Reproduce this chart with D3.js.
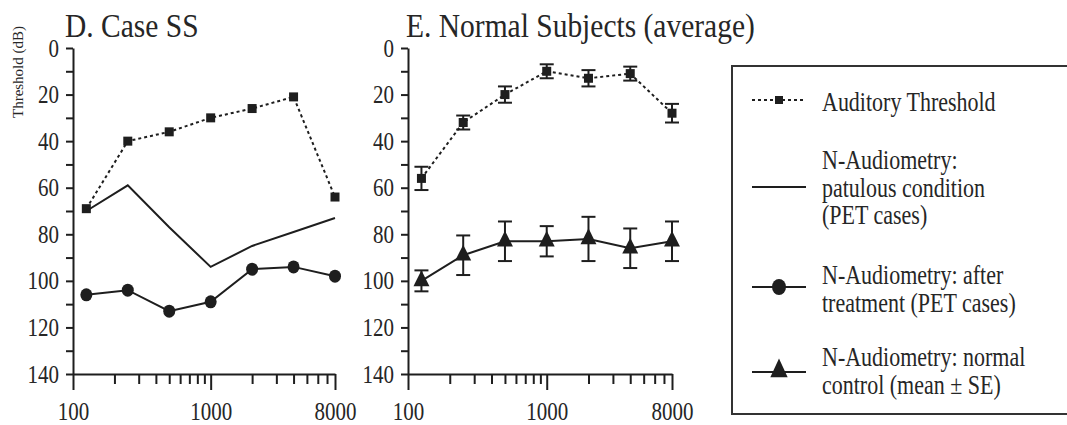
<!DOCTYPE html>
<html>
<head>
<meta charset="utf-8">
<script src="https://cdn.jsdelivr.net/npm/d3@7"></script>
<style>
  body { margin: 0; background: #fff; }
  svg text { font-family: "Liberation Serif", "Times New Roman", Times, "DejaVu Serif", serif !important; fill: #262626; }
</style>
</head>
<body>
<svg id="chart" width="1067" height="425" font-family="Liberation Serif, Times New Roman, serif"></svg>
<script>
// frequencies (Hz)
const freqs = [125, 250, 500, 1000, 2000, 4000, 8000]

// D. Case SS (dB)
const case_threshold = [69, 40, 36, 30, 26, 21, 64]
const case_patulous  = [70, 59, 77, 94, 85, 79, 73]
const case_after     = [106, 104, 113, 109, 95, 94, 98]

// E. Normal subjects (average, dB)
const normal_threshold    = [56, 32, 20, 10, 13, 11, 28]
const normal_threshold_se = [5, 3, 3.5, 3, 3.5, 3, 4]
const normal_control      = [100, 89, 83, 83, 82, 86, 83]
const normal_control_se   = [4.5, 8.5, 8.5, 6.5, 9.5, 8.5, 8.5]

// axes
const x_ticks  = [100, 200, 300, 400, 500, 600, 700, 800, 900, 1000, 2000, 3000, 4000, 5000, 6000, 7000, 8000]
const x_labels = [100, 1000, 8000]
const y_ticks  = [0, 10, 20, 30, 40, 50, 60, 70, 80, 90, 100, 110, 120, 130, 140]
const y_labels = [0, 20, 40, 60, 80, 100, 120, 140]

const titles = ["D. Case SS", "E. Normal Subjects (average)"]
const legend_labels = [
  ["Auditory Threshold"],
  ["N-Audiometry:", "patulous condition", "(PET cases)"],
  ["N-Audiometry: after", "treatment (PET cases)"],
  ["N-Audiometry: normal", "control (mean \u00b1 SE)"]
]

const ink = "#1e1e1e"
const serif = "Liberation Serif, Times New Roman, serif"
const svg = d3.select("#chart")

// text in the scan is a bit taller than wide
function stretch_text(g, x, y, str, size, anchor, sy) {
  return g.append("text")
          .attr("transform", "translate(" + x + "," + y + ") scale(1," + (sy || 1.2) + ")")
          .attr("font-family", serif)
          .attr("font-size", size)
          .attr("text-anchor", anchor || "start")
          .text(str)
}

const y = d3.scaleLinear().domain([0, 140]).range([48, 374])

const draw_panel = function(x0, x1, title, title_x) {
  const x = d3.scaleLog().domain([100, 8000]).range([x0, x1])
  const g = svg.append("g")

  // x axis
  const xa = g.append("g")
              .attr("transform", "translate(0," + y(140) + ")")
              .call(d3.axisBottom(x)
                      .tickValues(x_ticks)
                      .tickSize(10)
                      .tickSizeOuter(0)
                      .tickFormat(d => x_labels.includes(d) ? d : ""))
  xa.attr("font-family", serif)
  xa.select(".domain").attr("stroke", ink).attr("stroke-width", 2)
  xa.selectAll(".tick line")
    .attr("stroke", ink)
    .attr("stroke-width", 2)
    .attr("y2", d => x_labels.includes(d) ? 16 : 10)
  xa.selectAll(".tick text")
    .attr("y", 0).attr("dy", null)
    .attr("transform", "translate(0,46) scale(1,1.2)")
    .attr("font-size", 21)
    .attr("fill", "#262626")

  // y axis
  const ya = g.append("g")
              .attr("transform", "translate(" + x0 + ",0)")
              .call(d3.axisLeft(y)
                      .tickValues(y_ticks)
                      .tickSize(7)
                      .tickSizeOuter(0)
                      .tickFormat(d => y_labels.includes(d) ? d : ""))
  ya.attr("font-family", serif)
  ya.select(".domain").attr("stroke", ink).attr("stroke-width", 2)
  ya.selectAll(".tick line").attr("stroke", ink).attr("stroke-width", 2)
  ya.selectAll(".tick text")
    .attr("x", 0).attr("dy", null)
    .attr("transform", "translate(-14,8) scale(1,1.2)")
    .attr("font-size", 21)
    .attr("fill", "#262626")

  stretch_text(g, title_x, 37, title, 29.5, "start", 1.12)
  return { g: g, x: x }
}

const line_of = (x, vals) => d3.line().x((d, i) => x(freqs[i])).y(d => y(d))(vals)

// D. CASE SS
const pd = draw_panel(73, 335, titles[0], 65)
pd.g.append("path")
    .attr("d", line_of(pd.x, case_threshold))
    .attr("fill", "none").attr("stroke", ink)
    .attr("stroke-width", 2).attr("stroke-dasharray", "3,3")
pd.g.selectAll(".sq")
    .data(case_threshold).enter().append("rect")
    .attr("x", (d, i) => pd.x(freqs[i]) - 4.5)
    .attr("y", d => y(d) - 4.5)
    .attr("width", 9).attr("height", 9)
    .attr("fill", ink)
pd.g.append("path")
    .attr("d", line_of(pd.x, case_patulous))
    .attr("fill", "none").attr("stroke", ink).attr("stroke-width", 2)
pd.g.append("path")
    .attr("d", line_of(pd.x, case_after))
    .attr("fill", "none").attr("stroke", ink).attr("stroke-width", 2)
pd.g.selectAll(".dot")
    .data(case_after).enter().append("ellipse")
    .attr("cx", (d, i) => pd.x(freqs[i]))
    .attr("cy", d => y(d))
    .attr("rx", 6).attr("ry", 6.5)
    .attr("fill", ink)

// E. NORMAL SUBJECTS
const pe = draw_panel(408, 672, titles[1], 406)

const error_bars = function(vals, se) {
  const eb = pe.g.append("g")
  vals.forEach(function(v, i) {
    const cx = pe.x(freqs[i])
    eb.append("line")
      .attr("x1", cx).attr("x2", cx)
      .attr("y1", y(v - se[i])).attr("y2", y(v + se[i]))
      .attr("stroke", ink).attr("stroke-width", 2)
    ;[v - se[i], v + se[i]].forEach(function(e) {
      eb.append("line")
        .attr("x1", cx - 7).attr("x2", cx + 7)
        .attr("y1", y(e)).attr("y2", y(e))
        .attr("stroke", ink).attr("stroke-width", 2)
    })
  })
}

error_bars(normal_threshold, normal_threshold_se)
pe.g.append("path")
    .attr("d", line_of(pe.x, normal_threshold))
    .attr("fill", "none").attr("stroke", ink)
    .attr("stroke-width", 2).attr("stroke-dasharray", "3,3")
pe.g.selectAll(".sq")
    .data(normal_threshold).enter().append("rect")
    .attr("x", (d, i) => pe.x(freqs[i]) - 4.5)
    .attr("y", d => y(d) - 4.5)
    .attr("width", 9).attr("height", 9)
    .attr("fill", ink)

error_bars(normal_control, normal_control_se)
pe.g.append("path")
    .attr("d", line_of(pe.x, normal_control))
    .attr("fill", "none").attr("stroke", ink).attr("stroke-width", 2)
pe.g.selectAll(".tri")
    .data(normal_control).enter().append("path")
    .attr("d", d3.symbol().type(d3.symbolTriangle).size(110))
    .attr("transform", (d, i) => "translate(" + pe.x(freqs[i]) + "," + y(d) + ") scale(1,1.15)")
    .attr("fill", ink)

// faint axis label at the far left (mostly cut off in the scan)
svg.append("text")
   .attr("transform", "translate(23,72) rotate(-90)")
   .attr("font-family", serif)
   .attr("font-size", 15)
   .attr("text-anchor", "middle")
   .attr("fill", "#555")
   .text("Threshold (dB)")

// LEGEND (right side runs past the edge of the picture)
const lg = svg.append("g")
lg.append("rect")
  .attr("x", 732).attr("y", 66)
  .attr("width", 370).attr("height", 348)
  .attr("fill", "none").attr("stroke", "#333").attr("stroke-width", 2)

const sym_y = [100, 187, 287, 372]
const text_y = [[111], [169, 197, 224], [284, 312], [366, 394]]

lg.append("line").attr("x1", 752).attr("x2", 806).attr("y1", sym_y[0]).attr("y2", sym_y[0])
  .attr("stroke", ink).attr("stroke-width", 2).attr("stroke-dasharray", "3,3")
lg.append("rect").attr("x", 775).attr("y", sym_y[0] - 4).attr("width", 8).attr("height", 8).attr("fill", ink)

lg.append("line").attr("x1", 752).attr("x2", 806).attr("y1", sym_y[1]).attr("y2", sym_y[1])
  .attr("stroke", ink).attr("stroke-width", 2)

lg.append("line").attr("x1", 752).attr("x2", 806).attr("y1", sym_y[2]).attr("y2", sym_y[2])
  .attr("stroke", ink).attr("stroke-width", 2)
lg.append("ellipse").attr("cx", 779).attr("cy", sym_y[2]).attr("rx", 7).attr("ry", 8).attr("fill", ink)

lg.append("line").attr("x1", 752).attr("x2", 806).attr("y1", sym_y[3]).attr("y2", sym_y[3])
  .attr("stroke", ink).attr("stroke-width", 2)
lg.append("path")
  .attr("d", d3.symbol().type(d3.symbolTriangle).size(130))
  .attr("transform", "translate(779," + (sym_y[3] - 1) + ") scale(1,1.25)")
  .attr("fill", ink)

legend_labels.forEach(function(lines, i) {
  lines.forEach(function(t, j) {
    stretch_text(lg, 822, text_y[i][j], t, 22)
  })
})
</script>
</body>
</html>
